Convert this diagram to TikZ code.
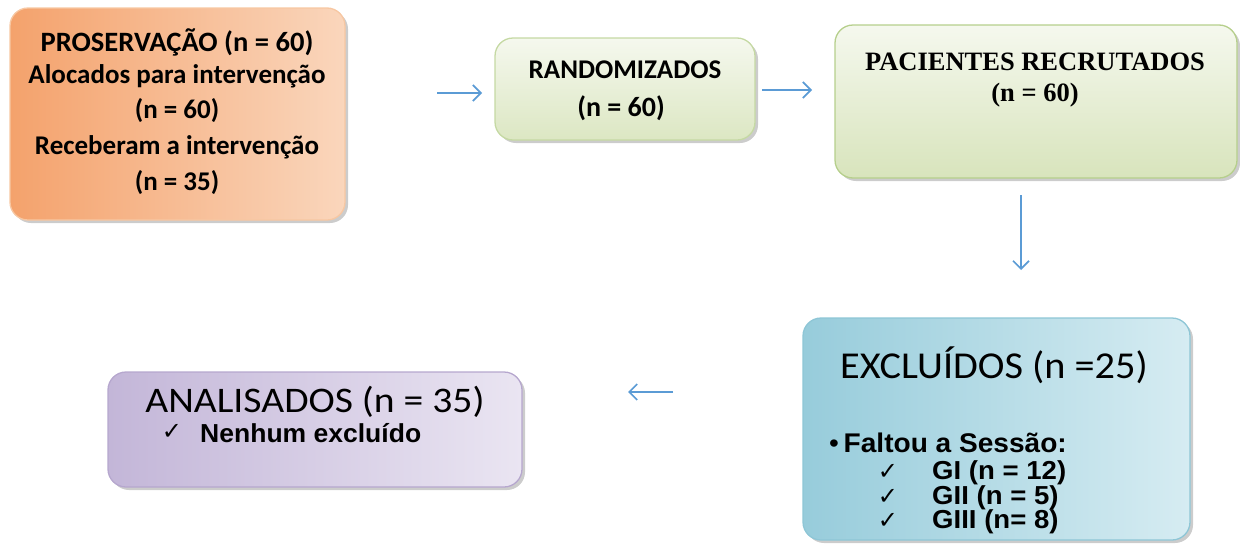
\documentclass[tikz,border=0pt]{standalone}
\usepackage{fontspec}
\setmainfont{Carlito}
\newfontfamily\arialf{Liberation Sans}
\newfontfamily\timesf{Liberation Serif}
\newfontfamily\dejavu{DejaVu Sans}
\usetikzlibrary{shadows,arrows.meta}
\definecolor{orgD}{HTML}{F4A26C}
\definecolor{orgL}{HTML}{FAD6BC}
\definecolor{orgB}{HTML}{F7C7A2}
\definecolor{grnT}{HTML}{F5F8EE}
\definecolor{grnB}{HTML}{D8E4BC}
\definecolor{grnE}{HTML}{B6CF8C}
\definecolor{bluD}{HTML}{97CCDB}
\definecolor{bluL}{HTML}{D6ECF2}
\definecolor{bluE}{HTML}{8EC6D6}
\definecolor{purD}{HTML}{C3B6D8}
\definecolor{purL}{HTML}{EAE5F2}
\definecolor{purE}{HTML}{B6A7CE}
\definecolor{arrc}{HTML}{5B9BD5}
\newcommand{\sx}[2]{\scalebox{#1}[1]{#2}}
\newcommand{\chk}{{\dejavu\fontsize{24pt}{24pt}\selectfont ✓}}
\begin{document}
\begin{tikzpicture}[x=1pt,y=-1pt,
  box/.style={rounded corners=18pt, line width=1.3pt, inner sep=0pt,
    drop shadow={shadow xshift=3pt, shadow yshift=-3pt, fill=black!40, opacity=0.5}},
  txt/.style={inner sep=0pt, text=black},
  arr/.style={draw=arrc, line width=1.7pt, -{Straight Barb[length=8pt,width=16pt]}}
]
\useasboundingbox (0,0) rectangle (1240,544);
% boxes
\node[box, draw=orgB, left color=orgD, right color=orgL, minimum width=335pt, minimum height=212pt] (pro) at (177.5,114) {};
\node[box, draw=grnE!80, top color=grnT, bottom color=grnB!90, minimum width=260pt, minimum height=102pt] (rand) at (625,89) {};
\node[box, draw=grnE, top color=grnT, bottom color=grnB, minimum width=402pt, minimum height=153pt] (pac) at (1036,101.5) {};
\node[box, draw=bluE, left color=bluD, right color=bluL, minimum width=387pt, minimum height=222pt] (exc) at (996.5,429) {};
\node[box, draw=purE, left color=purD, right color=purL, minimum width=414pt, minimum height=115pt] (ana) at (315,429.5) {};
% texts
\begin{scope}[every node/.style={txt}]
\node (p1) at (177,42) {\sx{1.02}{\fontsize{28pt}{28pt}\selectfont\bfseries PROSERVAÇÃO (n = 60)}};
\node (p2) at (177,76) {\fontsize{27pt}{27pt}\selectfont\bfseries Alocados para intervenção};
\node (p3) at (177,111) {\fontsize{27pt}{27pt}\selectfont\bfseries (n = 60)};
\node (p4) at (177,147) {\fontsize{27pt}{27pt}\selectfont\bfseries Receberam a intervenção};
\node (p5) at (177,183) {\fontsize{27pt}{27pt}\selectfont\bfseries (n = 35)};
\node (r1) at (625,70) {\fontsize{27pt}{27pt}\selectfont\bfseries RANDOMIZADOS};
\node (r2) at (621,108) {\fontsize{28pt}{28pt}\selectfont\bfseries (n = 60)};
\node (c1) at (1035,62) {\timesf\fontsize{26.5pt}{26.5pt}\selectfont\bfseries PACIENTES RECRUTADOS};
\node (c2) at (1035,95) {\timesf\fontsize{26.5pt}{26.5pt}\selectfont\bfseries (n = 60)};
\node (e1) at (994,365) {\sx{1.06}{\fontsize{38pt}{38pt}\selectfont EXCLUÍDOS (n =25)}};
\node[anchor=west] (e2) at (829,443) {\sx{1.04}{\arialf\fontsize{27pt}{27pt}\selectfont\bfseries {\mdseries •}\,Faltou a Sessão:}};
\node (k1) at (888,472) {\chk};
\node (k2) at (888,497) {\chk};
\node (k3) at (888,521) {\chk};
\node[anchor=west] (g1) at (932,473) {\sx{1.06}{\arialf\fontsize{26pt}{26pt}\selectfont\bfseries GI (n = 12)}};
\node[anchor=west] (g2) at (932,498) {\sx{1.06}{\arialf\fontsize{26pt}{26pt}\selectfont\bfseries GII (n = 5)}};
\node[anchor=west] (g3) at (932,522) {\sx{1.06}{\arialf\fontsize{26pt}{26pt}\selectfont\bfseries GIII (n= 8)}};
\node (a1) at (315,402) {\sx{1.1}{\fontsize{36pt}{36pt}\selectfont ANALISADOS (n = 35)}};
\node (k4) at (172,432) {\chk};
\node[anchor=west] (a2) at (200,433) {\sx{1.02}{\arialf\fontsize{26pt}{26pt}\selectfont\bfseries Nenhum excluído}};
\end{scope}
% arrows
\coordinate (s1) at (437,93); \coordinate (t1) at (482,93);
\coordinate (s2) at (762,90); \coordinate (t2) at (812,90);
\coordinate (s3) at (1021,195); \coordinate (t3) at (1021,270);
\coordinate (s4) at (673,392); \coordinate (t4) at (628,392);
\draw[arr] (s1) -- (t1);
\draw[arr] (s2) -- (t2);
\draw[arr] (s3) -- (t3);
\draw[arr] (s4) -- (t4);
\end{tikzpicture}
\end{document}
